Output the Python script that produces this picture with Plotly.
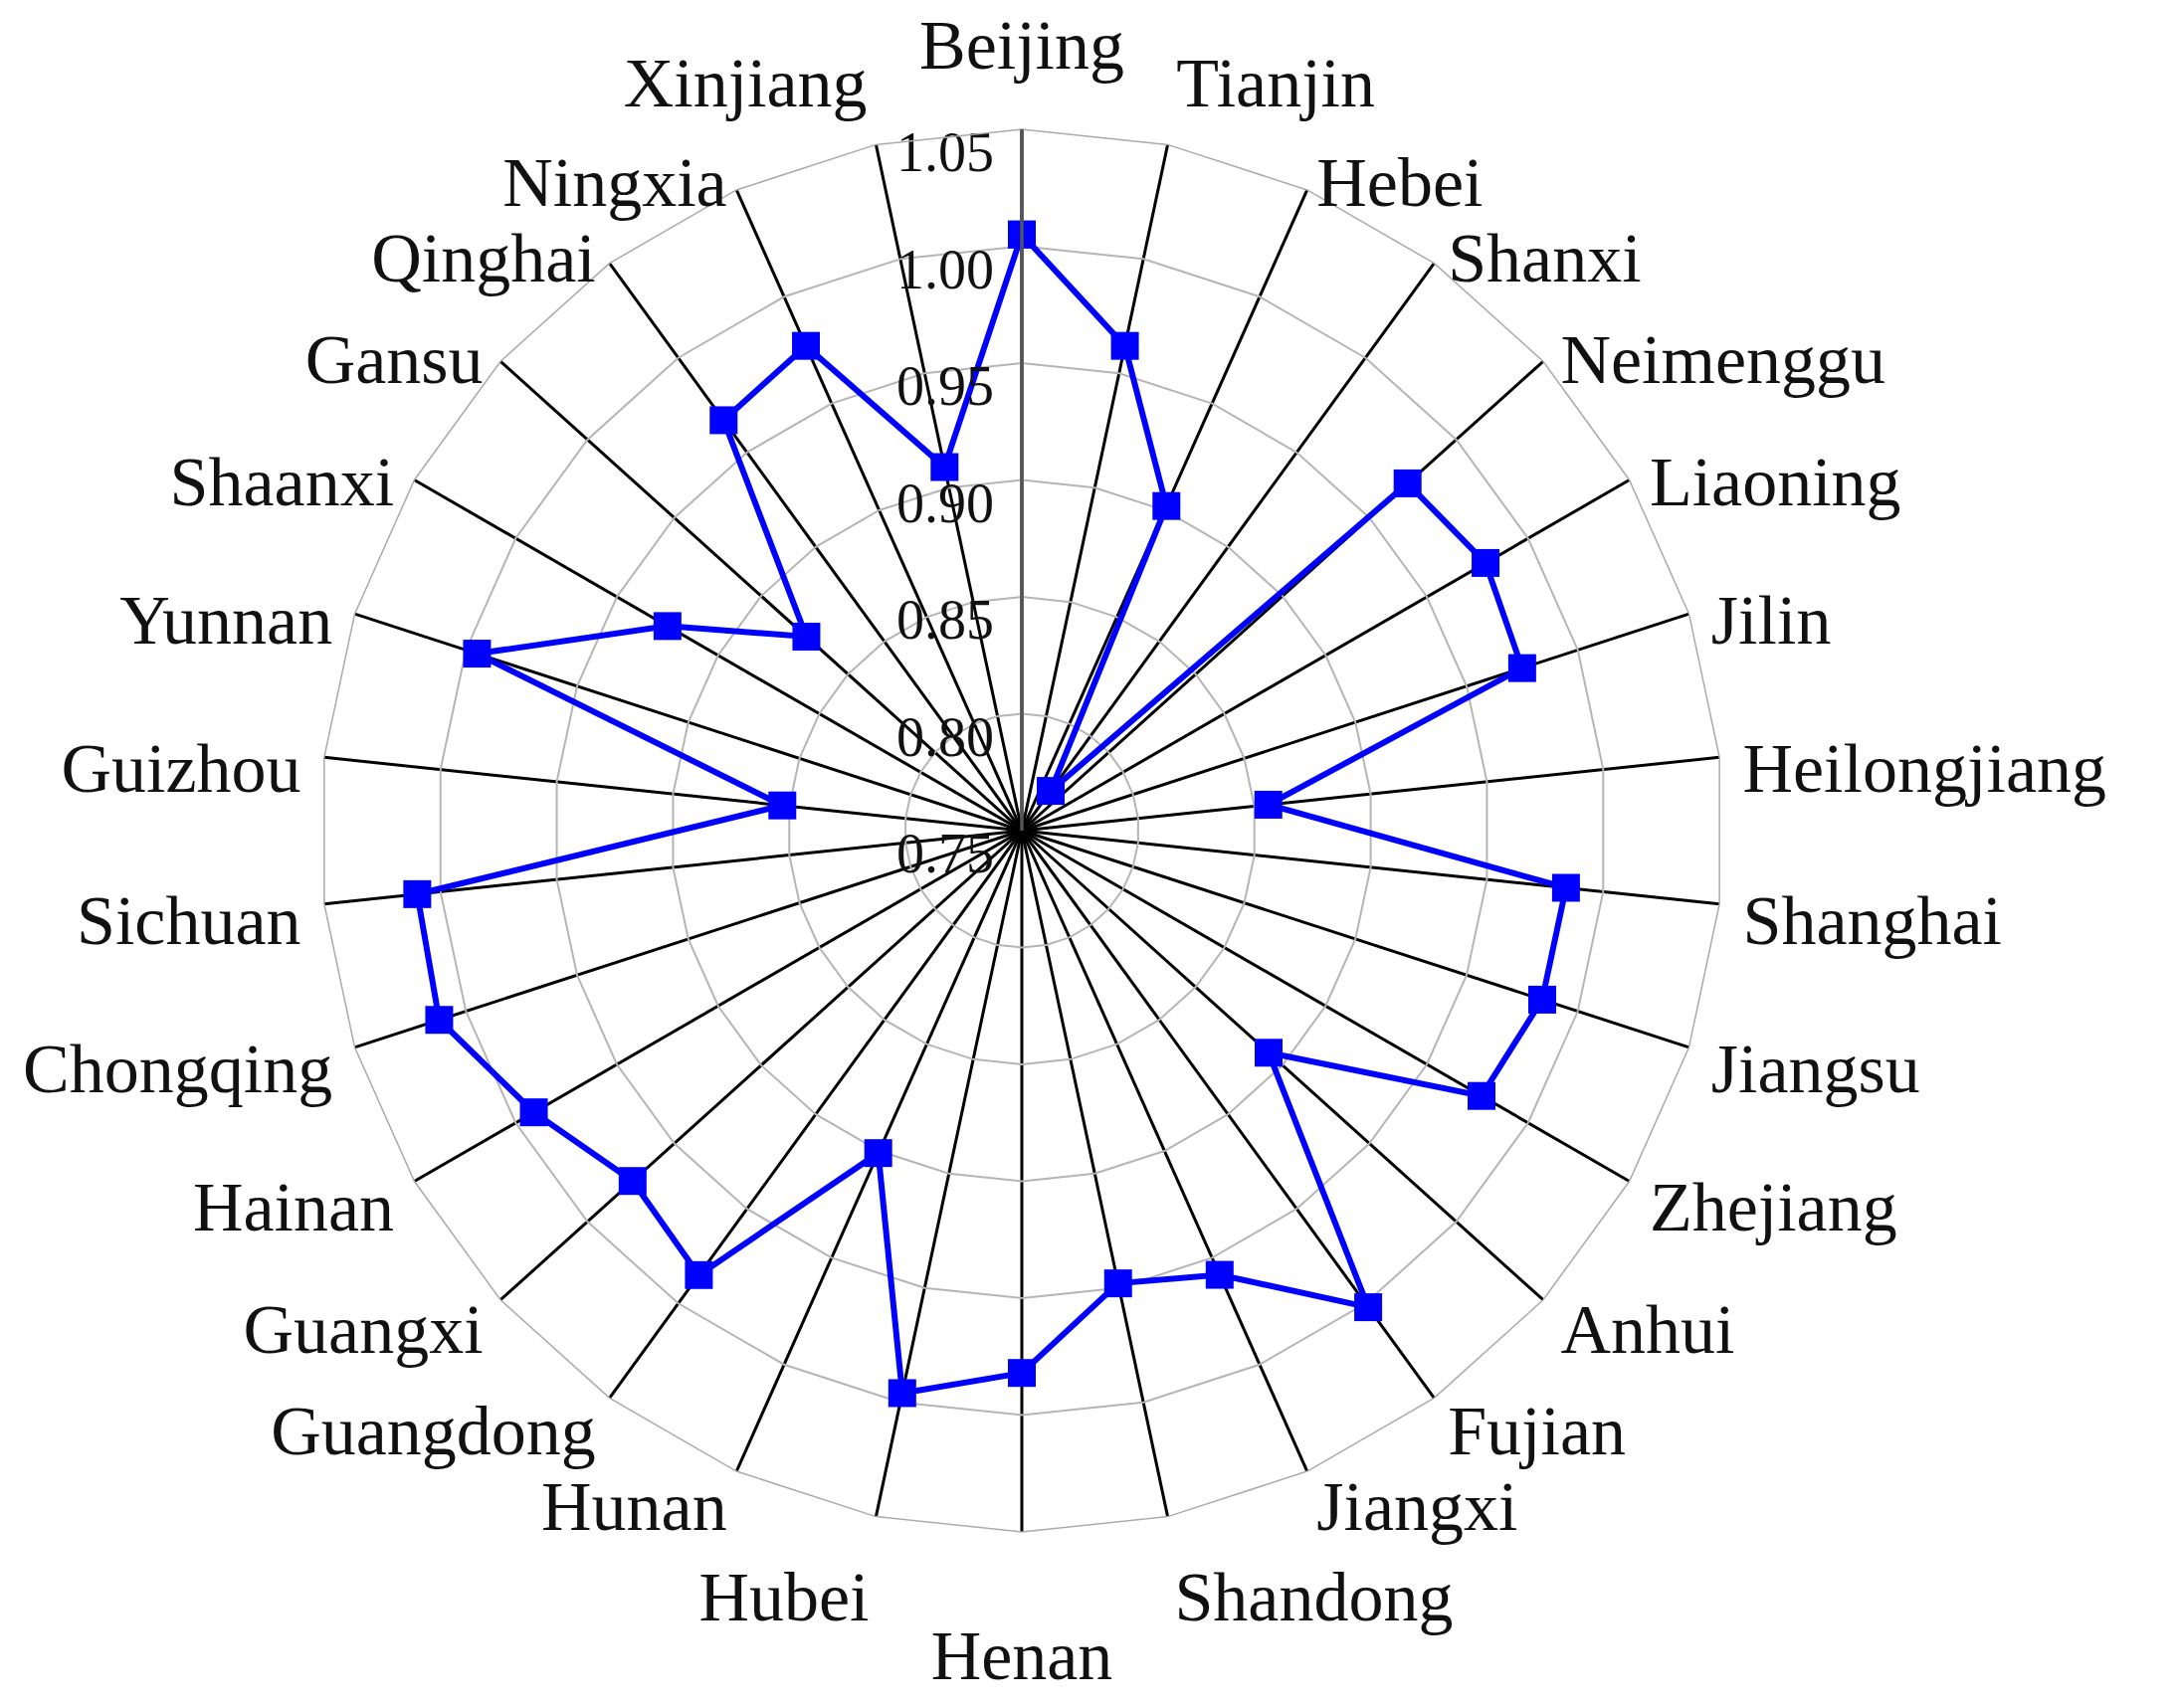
import numpy as np
import plotly.graph_objects as go

provinces = ["Beijing", "Tianjin", "Hebei", "Shanxi", "Neimenggu", "Liaoning", "Jilin",
             "Heilongjiang", "Shanghai", "Jiangsu", "Zhejiang", "Anhui", "Fujian", "Jiangxi",
             "Shandong", "Henan", "Hubei", "Hunan", "Guangdong", "Guangxi", "Hainan",
             "Chongqing", "Sichuan", "Guizhou", "Yunnan", "Shaanxi", "Gansu", "Qinghai",
             "Ningxia", "Xinjiang"]
values = [1.005, 0.962, 0.902, 0.771, 0.972, 0.979, 0.975,
          0.856, 0.984, 0.984, 0.977, 0.892, 1.002, 0.958,
          0.948, 0.982, 0.996, 0.901, 0.985, 0.974, 0.991,
          1.012, 1.010, 0.853, 0.995, 0.925, 0.874, 0.967,
          0.977, 0.909]
radial_ticks = [0.75, 0.80, 0.85, 0.90, 0.95, 1.00, 1.05]
radial_labels = ["0.75", "0.80", "0.85", "0.90", "0.95", "1.00", "1.05"]

W, H = 2190, 1717
CX, CY, R = 1019, 827, 705          # centre and outer radius of the web, px
LABEL_DY = 20                        # names sit slightly lower than the web centre
RMIN, RMAX = 0.75, 1.05
RMAX_OUT = 1.10                      # invisible outer polar used for the names
LABEL_R = 1.06
FONT = "Liberation Serif"

# close the loop
r = values + values[:1]
theta = provinces + provinces[:1]

# where each province name sits around the web
n = len(provinces)
text_pos, label_r = [], []
for i in range(n):
    a = np.deg2rad(90 - 360 * i / n)
    c, s = np.cos(a), np.sin(a)
    side = "right" if c > 0.1 else ("left" if c < -0.1 else "center")
    vert = "top" if s > 0.95 else ("bottom" if s < -0.95 else "middle")
    text_pos.append(vert + " " + side)
    extra = 0.0
    if vert == "top":
        extra = 0.017 if side == "center" else 0.008
    elif vert == "bottom":
        extra = 0.022 if side == "center" else 0.004
    label_r.append(LABEL_R + extra)

# a point sitting exactly on the pole is dropped, nudge it off by a hair
tick_r = [max(t, RMIN + 1e-4) for t in radial_ticks]


def dom(radius, dy=0):
    cy_up = H - CY - dy
    return dict(x=[(CX - radius) / W, (CX + radius) / W],
                y=[(cy_up - radius) / H, (cy_up + radius) / H])


fig = go.Figure()
fig.add_trace(go.Scatterpolar(
    r=r, theta=theta, subplot="polar",
    mode="lines+markers",
    line=dict(color="#0000FF", width=6),
    marker=dict(symbol="square", size=28, color="#0000FF"),
    showlegend=False
))
# radial scale labels, left of the Beijing spoke, just under each ring
fig.add_trace(go.Scatterpolar(
    r=tick_r, theta=[provinces[0]] * len(radial_ticks), subplot="polar",
    mode="text", text=[t + "\u00a0\u00a0" for t in radial_labels],
    textposition="bottom left",
    textfont=dict(size=56, family=FONT, color="#111111"),
    cliponaxis=False, showlegend=False, hoverinfo="skip"
))
fig.add_trace(go.Scatterpolar(
    r=label_r, theta=provinces, subplot="polar2",
    mode="text", text=provinces, textposition=text_pos,
    textfont=dict(size=70, family=FONT, color="#111111"),
    cliponaxis=False, showlegend=False, hoverinfo="skip"
))

R2 = R * (RMAX_OUT - RMIN) / (RMAX - RMIN)

fig.update_layout(
    width=W, height=H,
    margin=dict(l=0, r=0, t=0, b=0),
    paper_bgcolor="white",
    font=dict(family=FONT, color="#111111"),
    polar=dict(
        domain=dom(R),
        bgcolor="white",
        gridshape="linear",
        angularaxis=dict(
            rotation=90, direction="clockwise",
            categoryorder="array", categoryarray=provinces,
            showgrid=True, gridcolor="#000000", gridwidth=2.7,
            showline=True, linecolor="#aaaaaa", linewidth=1.5,
            ticks="", showticklabels=False,
        ),
        radialaxis=dict(
            range=[RMIN, RMAX], angle=90,
            tickvals=radial_ticks, showticklabels=False,
            showgrid=True, gridcolor="#b5b5b5", gridwidth=1.5,
            showline=True, linecolor="#555555", linewidth=3.5,
            ticks="",
        ),
    ),
    polar2=dict(
        domain=dom(R2, LABEL_DY),
        bgcolor="rgba(0,0,0,0)",
        angularaxis=dict(
            rotation=90, direction="clockwise",
            categoryorder="array", categoryarray=provinces,
            showgrid=False, showline=False, ticks="", showticklabels=False,
        ),
        radialaxis=dict(
            range=[RMIN, RMAX_OUT], visible=False,
        ),
    ),
)

fig.write_html("out.html")
